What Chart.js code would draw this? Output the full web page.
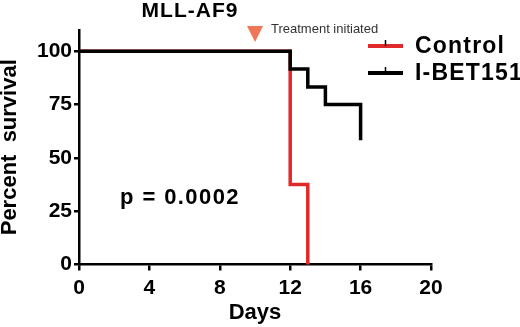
<!DOCTYPE html>
<html>
<head>
<meta charset="utf-8">
<script src="https://cdn.jsdelivr.net/npm/chart.js@4.4.1/dist/chart.umd.min.js"></script>
<style>
  html, body { margin: 0; padding: 0; background: #fff; }
  #wrap { width: 520px; height: 327px; position: relative; }
</style>
</head>
<body>
<div id="wrap"><canvas id="survivalChart"></canvas></div>
<script>
// Kaplan-Meier steps (day, percent surviving)
const controlDays = [0, 12, 13];
const controlSurvival = [100, 37.5, 0];
const ibetDays = [0, 12, 13, 14, 16];
const ibetSurvival = [100, 91.7, 83.3, 75, 58.3];

const xTicks = [0, 4, 8, 12, 16, 20];
const yTicks = [0, 25, 50, 75, 100];
const treatmentDay = 10;

const chartTitle = 'MLL-AF9';
const pValueText = 'p = 0.0002';
const treatmentText = 'Treatment initiated';
const seriesNames = ['Control', 'I-BET151'];
const seriesColours = ['#e02a2a', '#000000'];

const FONT = '"Liberation Sans", Arial, sans-serif';

// extra text, the arrow and the legend go on top of the chart
const annotations = {
    id: 'annotations',
    afterDraw(chart) {
        const ctx = chart.ctx;
        const x = chart.scales.x;
        const y = chart.scales.y;
        ctx.save();

        // title
        ctx.fillStyle = '#000';
        ctx.font = `bold 21px ${FONT}`;
        ctx.letterSpacing = '1px';
        ctx.textAlign = 'center';
        ctx.textBaseline = 'middle';
        ctx.fillText(chartTitle, 190, 11);

        // treatment arrow
        const ax = x.getPixelForValue(treatmentDay);
        ctx.fillStyle = '#ef7657';
        ctx.beginPath();
        ctx.moveTo(ax - 8, 26);
        ctx.lineTo(ax + 8, 26);
        ctx.lineTo(ax, 42);
        ctx.closePath();
        ctx.fill();

        ctx.fillStyle = '#333';
        ctx.font = `13px ${FONT}`;
        ctx.letterSpacing = '0px';
        ctx.textAlign = 'left';
        ctx.fillText(treatmentText, ax + 16, 29);

        // p value
        ctx.fillStyle = '#000';
        ctx.font = `bold 22px ${FONT}`;
        ctx.letterSpacing = '1.4px';
        ctx.textAlign = 'center';
        ctx.fillText(pValueText, 180, y.getPixelForValue(31));

        // legend with censor tick
        const rows = [46, 73];
        seriesNames.forEach((name, i) => {
            const ly = rows[i];
            ctx.strokeStyle = seriesColours[i];
            ctx.lineWidth = 4;
            ctx.beginPath();
            ctx.moveTo(368, ly);
            ctx.lineTo(403, ly);
            ctx.stroke();
            ctx.strokeStyle = '#000';
            ctx.lineWidth = 1.5;
            ctx.beginPath();
            ctx.moveTo(385.5, ly);
            ctx.lineTo(385.5, ly - 6);
            ctx.stroke();
            ctx.fillStyle = '#000';
            ctx.font = `bold 23px ${FONT}`;
            ctx.letterSpacing = '1.2px';
            ctx.textAlign = 'left';
            ctx.fillText(name, 415, ly + 1);
        });

        ctx.restore();
    }
};

const ctx = document.getElementById('survivalChart').getContext('2d');
new Chart(ctx, {
    type: 'line',
    data: {
        datasets: [
            {
                label: seriesNames[0],
                data: controlDays.map((d, i) => ({ x: d, y: controlSurvival[i] })),
                borderColor: seriesColours[0],
                borderWidth: 3.5,
                stepped: 'before',
                pointRadius: 0,
                order: 1
            },
            {
                label: seriesNames[1],
                data: ibetDays.map((d, i) => ({ x: d, y: ibetSurvival[i] })),
                borderColor: seriesColours[1],
                borderWidth: 3.5,
                stepped: 'before',
                pointRadius: 0,
                order: 0 // black on top
            }
        ]
    },
    options: {
        responsive: true,
        maintainAspectRatio: false,
        animation: false,
        clip: false,
        layout: { padding: { left: 0, top: 30, right: 89, bottom: 0 } },
        scales: {
            x: {
                type: 'linear',
                min: 0,
                max: 20,
                afterBuildTicks: s => { s.ticks = xTicks.map(v => ({ value: v })); },
                afterFit: s => { s.height = 62.5; },
                grid: { drawOnChartArea: false, drawTicks: true, tickLength: 6, color: '#000', lineWidth: 2.5 },
                border: { color: '#000', width: 2.5 },
                ticks: { color: '#000', padding: 5, font: { family: FONT, size: 21, weight: 'bold' }, maxRotation: 0 },
                title: {
                    display: true,
                    text: 'Days',
                    color: '#000',
                    font: { family: FONT, size: 22, weight: 'bold', lineHeight: 1.2 },
                    padding: { top: 0, bottom: 1 }
                }
            },
            y: {
                type: 'linear',
                min: 0,
                max: 110,
                bounds: 'data',
                ticks: { includeBounds: false, color: '#000', padding: 2, font: { family: FONT, size: 21, weight: 'bold' } },
                afterBuildTicks: s => { s.ticks = yTicks.map(v => ({ value: v })); },
                afterFit: s => { s.width = 79; },
                grid: { drawOnChartArea: false, drawTicks: true, tickLength: 5, color: '#000', lineWidth: 2.5 },
                border: { color: '#000', width: 2.5 },
                title: {
                    display: true,
                    text: 'Percent  survival',
                    color: '#000',
                    font: { family: FONT, size: 22, weight: 'bold', lineHeight: 0.9 },
                    padding: { top: 0, bottom: 0 }
                }
            }
        },
        plugins: {
            legend: { display: false },
            tooltip: { enabled: false }
        }
    },
    plugins: [annotations]
});
</script>
</body>
</html>
